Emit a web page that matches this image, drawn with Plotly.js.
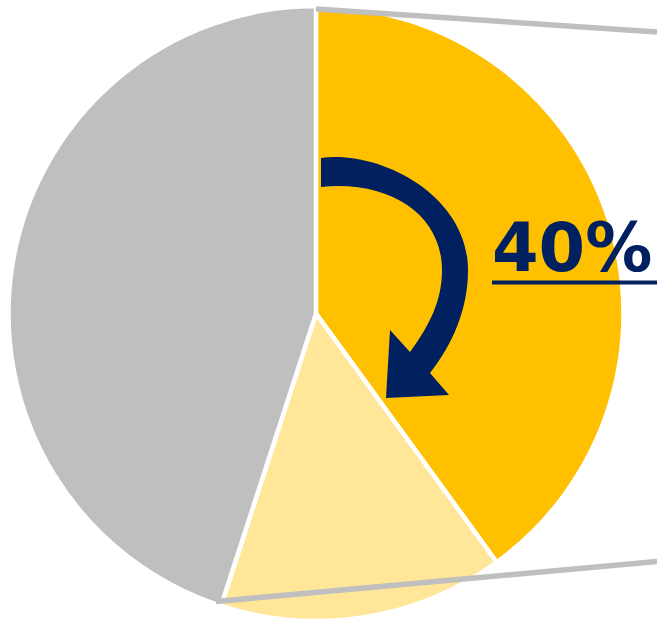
<!DOCTYPE html>
<html>
<head>
<meta charset="utf-8">
<script src="https://cdn.plot.ly/plotly-3.0.1.min.js"></script>
<style>html,body{margin:0;padding:0;background:#fff;}#chart{width:657px;height:621px;}</style>
</head>
<body>
<div id="chart"></div>
<script>
// Data
const sliceLabels = ['Reduced', 'Remaining', 'Other'];
const sliceValues = [40, 15, 45];
const sliceColors = ['#FFC000', '#FFE699', '#BFBFBF'];
const calloutText = '40%';

const W = 657, H = 621;

const pie = {
  type: 'pie',
  labels: sliceLabels,
  values: sliceValues,
  sort: false,
  direction: 'clockwise',
  rotation: 0,
  textinfo: 'none',
  hoverinfo: 'label+percent',
  marker: { colors: sliceColors, line: { color: '#ffffff', width: 4.5 } },
  domain: { x: [8.5 / W, 623.5 / W], y: [0, 1 - 6 / H] },
  showlegend: false
};

const dummy = { type: 'scatter', x: [], y: [], mode: 'markers', showlegend: false, hoverinfo: 'skip' };

const arrowPath =
  'M 321 158 C 380 150 468 195 468 270 ' +
  'C 468 310 452 345 430 373 ' +
  'L 449 395 L 386 398 L 390 330 L 410 352 ' +
  'C 430 325 442 300 442 270 ' +
  'C 442 215 390 180 321 187 Z';

const layout = {
  width: W, height: H,
  margin: { l: 0, r: 0, t: 0, b: 0, pad: 0 },
  paper_bgcolor: '#ffffff',
  plot_bgcolor: 'rgba(0,0,0,0)',
  xaxis: { range: [0, W], visible: false, fixedrange: true, domain: [0, 1] },
  yaxis: { range: [H, 0], visible: false, fixedrange: true, domain: [0, 1] },
  shapes: [
    { type: 'line', xref: 'x', yref: 'y', x0: 316, y0: 9, x1: 657, y1: 32,
      line: { color: '#BFBFBF', width: 5.5 } },
    { type: 'line', xref: 'x', yref: 'y', x0: 216, y0: 601.5, x1: 657, y1: 561.5,
      line: { color: '#BFBFBF', width: 5.5 } },
    { type: 'path', xref: 'x', yref: 'y', path: arrowPath,
      fillcolor: '#002060', line: { width: 0 } },
    { type: 'line', xref: 'x', yref: 'y', x0: 492, y0: 282.5, x1: 657, y1: 282.5,
      line: { color: '#002060', width: 4 } }
  ],
  annotations: [
    { xref: 'x', yref: 'y', x: 490, y: 248, xanchor: 'left', yanchor: 'middle',
      text: calloutText, showarrow: false,
      font: { family: 'DejaVu Sans', size: 67, color: '#002060', weight: 'bold' } }
  ]
};

Plotly.newPlot('chart', [pie, dummy], layout, { staticPlot: true });
</script>
</body>
</html>
